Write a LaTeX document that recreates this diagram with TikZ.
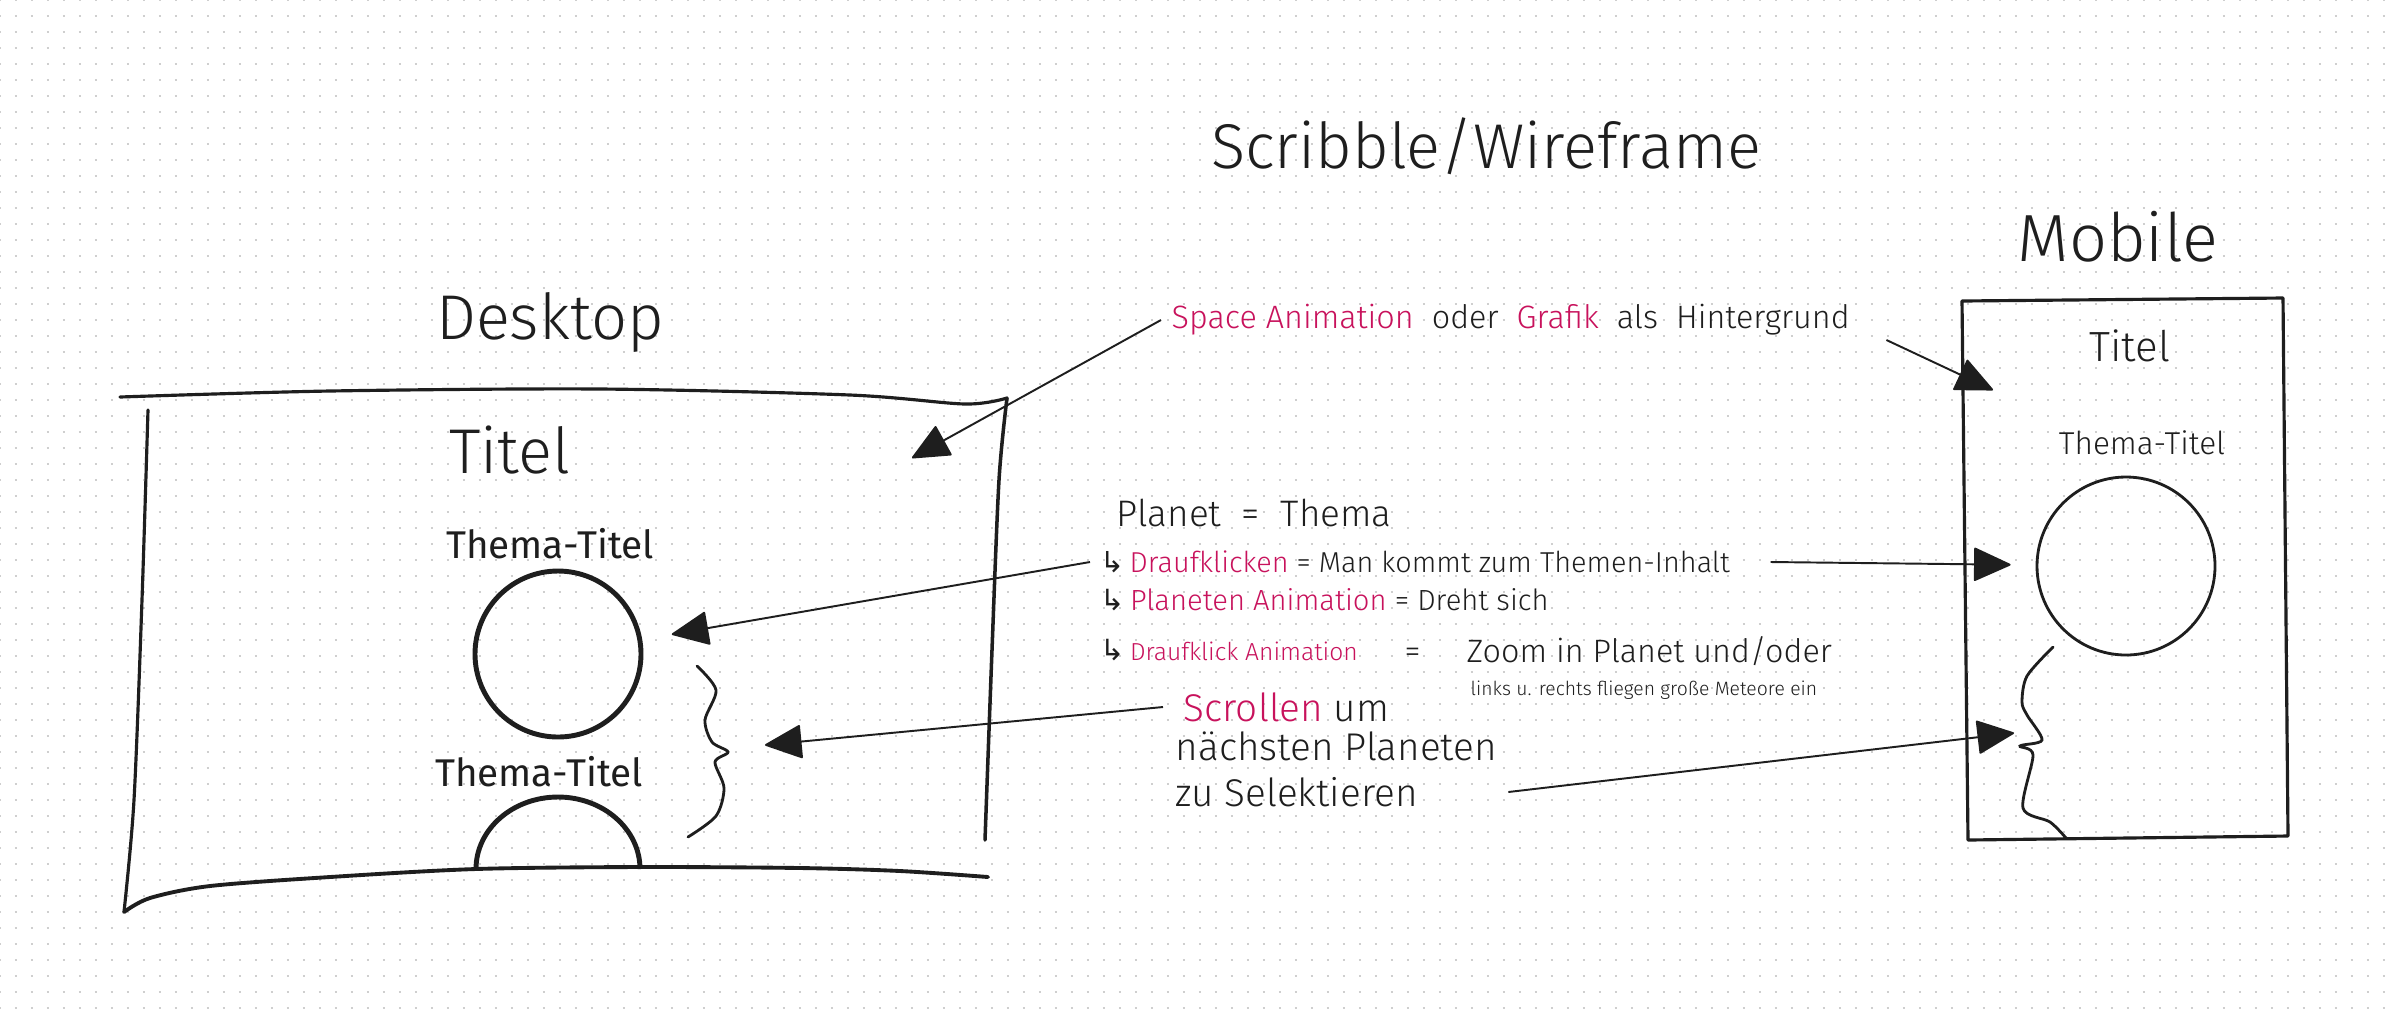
\documentclass[tikz,border=0pt]{standalone}
\usepackage{fontspec}
\setmainfont{Fira Sans Light}
\newfontfamily\penfont{Fira Sans}
\newfontfamily\arrowfont{DejaVu Sans}
\usepackage{tikz}
\usetikzlibrary{arrows.meta,positioning}
\definecolor{ink}{HTML}{1E1E1E}
\definecolor{pinkink}{RGB}{200,18,92}
\definecolor{dotgray}{HTML}{CFCFCF}

\begin{document}
\begin{tikzpicture}[x=0.1mm,y=-0.1mm,
  txt/.style={inner sep=0pt,text=ink},
  frame/.style={draw=ink,line width=0.9pt,line cap=round,line join=round},
  planet/.style={circle,draw=ink,line width=1.4pt,inner sep=0pt},
  arr/.style={draw=ink,line width=0.55pt,-{Triangle[length=3.8mm,width=3.4mm,round]}},
  wave/.style={draw=ink,line width=0.8pt,line cap=round},
  dotrow/.style={dotgray,line width=0.2mm,dash pattern=on 0.2mm off 1.4mm,dash phase=0.1mm}]
\useasboundingbox (0,0) rectangle (2388,1017);
\fill[white] (0,0) rectangle (2388,1017);
\foreach \r in {0,16,...,1008} \draw[dotrow] (0,\r) -- (2388,\r);

\node[txt,font=\fontsize{18}{20}\selectfont] (title) at (1486,146) {Scribble/Wireframe};
\node[txt,font=\fontsize{18}{20}\selectfont] (desktop) at (550,322) {Desktop};
\node[txt,font=\fontsize{19}{21}\selectfont] (mobile) at (2118,237) {Mobile};

\draw[frame] plot[smooth] coordinates {(120,397) (330,391) (600,389) (850,395) (965,404) (1007,398)};
\draw[frame] plot[smooth] coordinates {(148,410) (142,600) (134,800) (124,912)};
\draw[frame,line width=1.1pt] plot[smooth] coordinates {(124,912) (150,898) (210,886) (330,877) (476,869) (640,867) (800,868) (900,871) (988,877)};
\draw[frame,line width=1pt] plot[smooth] coordinates {(1007,398) (999,480) (992,650) (985,840)};

\node[txt,font=\fontsize{18}{20}\selectfont] (desktitle) at (510,450) {Titel};
\node[txt,font=\penfont\fontsize{11}{13}\selectfont] (deskthema) at (550,544) {Thema-Titel};
\node[planet,minimum size=16.6mm] (deskplanet) at (558,654) {};
\node[txt,font=\penfont\fontsize{11}{13}\selectfont] (deskthemb) at (539,772) {Thema-Titel};
\draw[draw=ink,line width=1.4pt] (476,869) arc[start angle=180,end angle=360,x radius=82,y radius=72];
\draw[wave] plot[smooth] coordinates {(697,666) (716,690) (705,720) (712,742) (728,752) (715,762) (724,788) (716,816) (688,837)};

\draw[frame] (1962,301) -- (2283,298) -- (2288,836) -- (1968,840) -- cycle;
\node[txt,font=\fontsize{12}{14}\selectfont] (mobtitle) at (2130,346) {Titel};
\node[txt,font=\fontsize{9}{11}\selectfont] (mobthema) at (2142,443) {Thema-Titel};
\node[planet,line width=0.8pt,minimum size=17.8mm] (mobplanet) at (2126,566) {};
\draw[wave] plot[smooth] coordinates {(2053,647) (2027,676) (2022,702) (2027,715) (2042,740) (2020,746) (2033,755) (2023,808) (2050,822) (2066,838)};

\node[txt,anchor=west,font=\fontsize{9.2}{11}\selectfont] (bgtext) at (1171,320) {\textcolor{pinkink}{Space Animation}\ \ oder\ \ \textcolor{pinkink}{Grafik}\ \ als\ \ Hintergrund};
\node[txt,anchor=west,font=\fontsize{10.5}{12}\selectfont] (planetline) at (1116,513) {Planet\ \ =\ \ Thema};
\node[txt,below=4.9mm of planetline.west,anchor=west,xshift=-1.6mm,font=\fontsize{8.2}{10}\selectfont] (row1) {{\arrowfont ↳}\,\textcolor{pinkink}{Draufklicken} = Man kommt zum Themen-Inhalt};
\node[txt,below=3.8mm of row1.west,anchor=west,font=\fontsize{8.3}{10}\selectfont] (row2) {{\arrowfont ↳}\,\textcolor{pinkink}{Planeten Animation} = Dreht sich};
\node[txt,below=5mm of row2.west,anchor=west,font=\fontsize{8.3}{10}\selectfont] (row3) {{\arrowfont ↳}\,\textcolor{pinkink}{\fontsize{7}{8}\selectfont Draufklick Animation}};
\node[txt,anchor=west,font=\fontsize{9.2}{11}\selectfont] (zoomtxt) at (1404,651) {=\hspace{4.6mm}Zoom in Planet und/oder};
\node[txt,anchor=west,font=\fontsize{5.5}{7}\selectfont] (meteor) at (1470,690) {links u. rechts fliegen große Meteore ein};
\node[txt,anchor=west,font=\fontsize{11}{13}\selectfont] (scroll1) at (1183,707) {\textcolor{pinkink}{Scrollen} um};
\node[txt,below=3.9mm of scroll1.west,anchor=west,xshift=-0.8mm,font=\fontsize{11}{13}\selectfont] (scroll2) {nächsten Planeten};
\node[txt,below=4.6mm of scroll2.west,anchor=west,font=\fontsize{11}{13}\selectfont] (scroll3) {zu Selektieren};

\coordinate (deskbg) at (912,458);
\coordinate (mobbg) at (1993,390);
\coordinate (deskscroll) at (765,745);
\coordinate (mobscroll) at (2014,733);
\draw[arr] ([xshift=-1mm]bgtext.west) -- (deskbg);
\draw[arr] ([shift={(3.6mm,-2mm)}]bgtext.east) -- (mobbg);
\draw[arr,shorten >=3mm] ([xshift=-1mm]row1.west) -- (deskplanet);
\draw[arr,shorten >=2.5mm] ([xshift=4mm]row1.east) -- (mobplanet);
\draw[arr] ([xshift=-2mm]scroll1.west) -- (deskscroll);
\draw[arr] ([xshift=9mm]scroll3.east) -- (mobscroll);
\end{tikzpicture}
\end{document}
